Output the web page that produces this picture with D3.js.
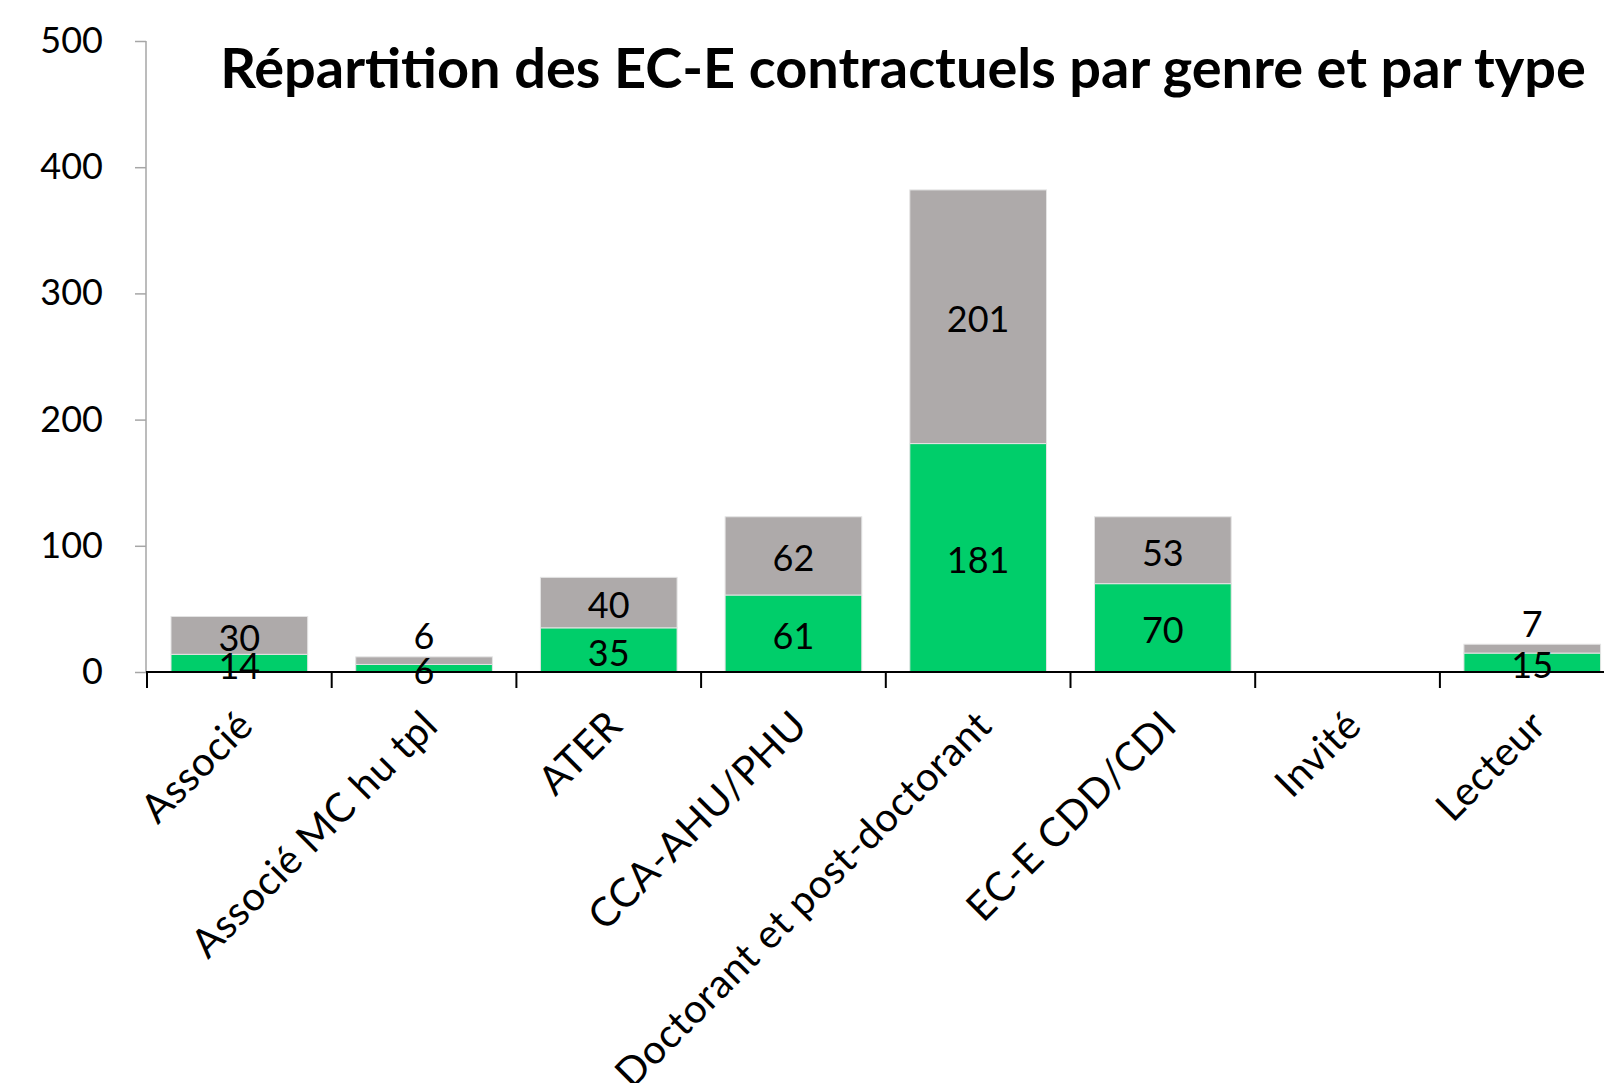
<!DOCTYPE html>
<html>
<head>
<meta charset="utf-8">
<script src="https://cdn.jsdelivr.net/npm/d3@7"></script>
<style>
  body { margin: 0; background: #fff; }
  svg { display: block; }
</style>
</head>
<body>
<div id="chart"></div>
<script>
// Data
const categories = ["Associé", "Associé MC hu tpl", "ATER", "CCA-AHU/PHU",
  "Doctorant et post-doctorant", "EC-E CDD/CDI", "Invité", "Lecteur"];
const seriesNames = ["genre1", "genre2"];
const genre1 = [14, 6, 35, 61, 181, 70, 0, 15];   // green, bottom
const genre2 = [30, 6, 40, 62, 201, 53, 0, 7];    // grey, top
const yTicks = [0, 100, 200, 300, 400, 500];
const title = "Répartition des EC-E contractuels par genre et par type";

const width = 1604;
const height = 1083;
const font = "Lato, 'Source Sans Pro', sans-serif";
const colors = ["#00CE6A", "#AEAAAA"];

const rows = categories.map((c, i) => ({ cat: c, genre1: genre1[i], genre2: genre2[i] }));
const stacked = d3.stack().keys(seriesNames)(rows);

const svg = d3.select("#chart").append("svg")
  .attr("width", width)
  .attr("height", height)
  .attr("viewBox", [0, 0, width, height])
  .style("font-family", font);

const x0 = 147, step = 184.7;
const x = d3.scaleBand()
  .domain(categories)
  .range([x0, x0 + step * categories.length])
  .paddingInner(0.26)
  .paddingOuter(0.13);

const y = d3.scaleLinear()
  .domain([0, 500])
  .range([672, 41]);

// bars
svg.append("g")
  .selectAll("g")
  .data(stacked)
  .join("g")
    .attr("fill", (d, i) => colors[i])
  .selectAll("rect")
  .data(d => d)
  .join("rect")
    .attr("x", d => x(d.data.cat))
    .attr("y", d => y(d[1]))
    .attr("width", x.bandwidth())
    .attr("height", d => y(d[0]) - y(d[1]))
    .attr("stroke", "#e4e4e4")
    .attr("stroke-width", 1);

// y axis
const yAxis = svg.append("g")
  .attr("transform", `translate(146,0)`)
  .call(d3.axisLeft(y).tickValues(yTicks).tickSize(11).tickPadding(32).tickFormat(d3.format("d")));
yAxis.select(".domain").attr("stroke", "#a6a6a6").attr("stroke-width", 1.5).attr("d", `M0,${y(0)}V${y(500)}`);
yAxis.selectAll(".tick line").attr("stroke", "#a6a6a6").attr("stroke-width", 1.5);
yAxis.selectAll(".tick text")
  .attr("fill", "#000")
  .style("font-family", font)
  .style("font-size", "36px");

// x axis line and ticks at band boundaries
svg.append("line")
  .attr("x1", 146).attr("x2", width)
  .attr("y1", y(0)).attr("y2", y(0))
  .attr("stroke", "#000").attr("stroke-width", 2);

svg.append("g")
  .selectAll("line")
  .data(d3.range(categories.length + 1))
  .join("line")
    .attr("x1", i => x0 + i * x.step())
    .attr("x2", i => x0 + i * x.step())
    .attr("y1", y(0))
    .attr("y2", y(0) + 16)
    .attr("stroke", "#000")
    .attr("stroke-width", 2);

// category labels, rotated
svg.append("g")
  .selectAll("text")
  .data(categories)
  .join("text")
    .attr("transform", d => `translate(${x(d) + x.bandwidth() / 2 + 6},${y(0) + 46}) rotate(-45)`)
    .attr("text-anchor", "end")
    .attr("dy", "0.35em")
    .style("font-size", "40px")
    .style("letter-spacing", "0.5px")
    .text(d => d);

// data labels
const labels = [];
stacked.forEach((s, si) => {
  s.forEach(d => {
    const v = d[1] - d[0];
    if (!v) return;
    const cx = x(d.data.cat) + x.bandwidth() / 2;
    let cy = (y(d[0]) + y(d[1])) / 2 + 3;
    if (si === 1 && y(d[0]) - y(d[1]) < 30) cy = y(d[1]) - 20;
    labels.push({ v, cx, cy });
  });
});
svg.append("g")
  .selectAll("text")
  .data(labels)
  .join("text")
    .attr("x", d => d.cx)
    .attr("y", d => d.cy)
    .attr("text-anchor", "middle")
    .attr("dy", "0.35em")
    .style("font-size", "36px")
    .text(d => d.v);

// title
const t = svg.append("text")
  .attr("x", 903)
  .attr("y", 88)
  .attr("text-anchor", "middle")
  .style("font-size", "46px")
  .style("font-weight", "bold")
  .text(title);
const w = t.node().getComputedTextLength();
t.style("font-size", (46 * 1366 / w) + "px");
</script>
</body>
</html>
